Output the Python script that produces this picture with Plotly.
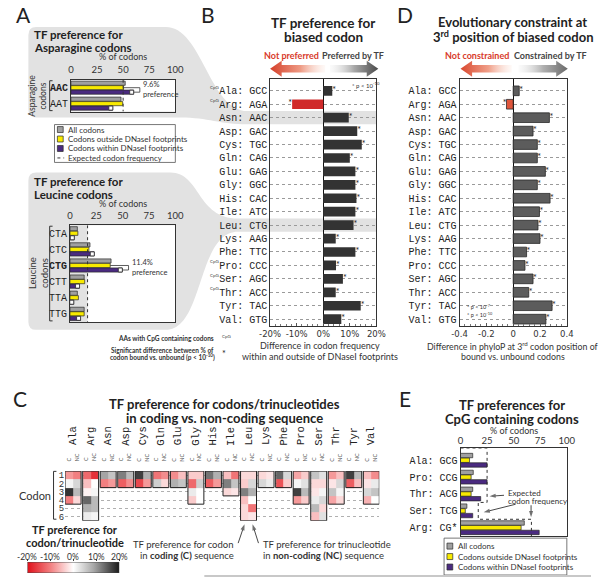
import plotly.graph_objects as go

# ---------------- data ----------------
asn_codons = ["AAC", "AAT"]
asn_all = [52.0, 48.0]
asn_outside = [50.4, 49.6]
asn_within = [60.0, 40.0]
asn_expected = 50.0
asn_pref_label = "9.6%"

leu_codons = ["CTA", "CTC", "CTG", "CTT", "TTA", "TTG"]
leu_all = [7.0, 19.0, 39.0, 13.5, 7.0, 13.5]
leu_outside = [7.5, 18.0, 38.2, 14.0, 8.0, 13.5]
leu_within = [4.0, 23.0, 49.6, 9.0, 3.5, 10.0]
leu_expected = 16.7
leu_pref_label = "11.4%"

aa_names = ["Ala", "Arg", "Asn", "Asp", "Cys", "Gln", "Glu", "Gly", "His",
            "Ile", "Leu", "Lys", "Phe", "Pro", "Ser", "Thr", "Tyr", "Val"]
biased_codons = ["GCC", "AGA", "AAC", "GAC", "TGC", "CAG", "GAG", "GGC", "CAC",
                 "ATC", "CTG", "AAG", "TTC", "CCC", "AGC", "ACC", "TAC", "GTG"]
cpg_aas = ["Ala", "Arg", "Pro", "Ser", "Thr"]
tf_preference = [3.4, -11.7, 9.6, 12.8, 14.5, 10.0, 12.1, 12.1, 12.5,
                 12.1, 11.4, 4.7, 12.1, 4.8, 7.4, 4.7, 14.1, 6.8]
phylop_difference = [0.045, -0.05, 0.27, 0.148, 0.18, 0.18, 0.24, 0.18, 0.275,
                     0.196, 0.185, 0.20, 0.10, 0.088, 0.148, 0.116, 0.29, 0.244]

codon_counts = [4, 6, 2, 2, 2, 2, 2, 4, 2, 3, 6, 2, 2, 4, 6, 4, 2, 4]
heat_coding = [
    [-8, 1, 18, -10], [-12, -5, -1, 14, 8, 2], [9, -10], [12, -13], [17, -15],
    [-11, 5], [-9, 8], [-4, -12, 2, -4], [13, -13], [-5, 12, -3],
    [-3, -4, 12, -5, -3, -3], [-3, 4], [14, -14], [-7, 1, 17, -8],
    [6, -3, -2, 2, 7, -5], [-8, -2, 6, -7], [17, -13], [-5, -2, 4, -6],
]
heat_noncoding = [
    [-10, 4, 7, -3], [-17, 0, 1, 7, 7, 1], [6, -8], [7, -9], [8, -8],
    [-9, -3], [-5, 6], [-4, 5, 0, 0], [8, -8], [-11, 6, -2],
    [-3, 4, 8, 0, -11, -2], [-2, 2], [4, -4], [-4, 3, 7, -4],
    [3, -3, 1, 4, -3, 3], [-5, 4, 1, -3], [7, -5], [-9, 2, 6, 0],
]
heat_ticks = [-20, -10, 0, 10, 20]

cpg_codon_labels = ["Ala: GCG", "Pro: CCG", "Thr: ACG", "Ser: TCG", "Arg: CG*"]
cpg_all = [11.5, 12.0, 11.5, 6.0, 60.0]
cpg_outside = [8.5, 10.0, 10.0, 4.5, 57.0]
cpg_within = [25.0, 25.0, 19.0, 11.5, 74.0]
cpg_expected = [25.0, 25.0, 25.0, 16.7, 66.7]

# ---------------- style ----------------
W, H = 600, 579
def PX(x): return x / W
def PY(y): return 1 - y / H

SANS = "Lato"
MONO = "Liberation Mono"
TICKF = "DejaVu Sans"
GRAY = "#a0a0a0"
YELLOW = "#f8ea00"
PURPLE = "#4a2a80"
EDGE = "#2a2a2a"
FUNNEL = "#e2e2e2"
DARK = "#333333"
REDB = "#d02a2a"
REDD = "#e0553b"
GRAYD = "#5c5c5c"
OFFS = [-0.28, 0.0, 0.28]

fig = go.Figure()
shapes = []
anns = []


def ann(x, y, text, size=9, color="#222", family=SANS, xanchor="center",
        yanchor="middle", **kw):
    anns.append(dict(x=PX(x), y=PY(y), xref="paper", yref="paper", text=text,
                     showarrow=False, font=dict(size=size, color=color, family=family),
                     xanchor=xanchor, yanchor=yanchor, **kw))


def pline(x0, y0, x1, y1, color="#222", width=1, dash=None, layer="above"):
    shapes.append(dict(type="line", xref="paper", yref="paper", x0=PX(x0), y0=PY(y0),
                       x1=PX(x1), y1=PY(y1), layer=layer,
                       line=dict(color=color, width=width, dash=dash)))


def prect(x0, y0, x1, y1, fill, lc=None, lw=0.8, layer="below"):
    shapes.append(dict(type="rect", xref="paper", yref="paper", x0=PX(x0), y0=PY(y0),
                       x1=PX(x1), y1=PY(y1), fillcolor=fill, layer=layer,
                       line=dict(color=lc if lc else "rgba(0,0,0,0)", width=lw if lc else 0)))


def ppath(cmds, fill):
    out = []
    for c in cmds:
        op, vals = c[0], c[1:]
        pts = []
        for i in range(0, len(vals), 2):
            pts.append(f"{PX(vals[i]):.5f},{PY(vals[i+1]):.5f}")
        out.append(op + " " + " ".join(pts))
    shapes.append(dict(type="path", xref="paper", yref="paper", path=" ".join(out) + " Z",
                       fillcolor=fill, line=dict(width=0), layer="below"))


def px_arrow(x0, y0, x1, y1):
    # decorative pointer drawn on the pixel overlay axis
    fig.add_trace(go.Scatter(x=[x0, x1], y=[y0, y1], mode="lines+markers",
                             line=dict(color="#333", width=0.9),
                             marker=dict(symbol=["circle", "arrow"], size=[0, 6.5], angleref="previous",
                                         color="#333", line=dict(width=0)),
                             xaxis="x9", yaxis="y9", hoverinfo="skip", showlegend=False))


# ---------------- gray funnels (panel A -> B rows) ----------------
ppath([("M", 26, 27), ("L", 160, 27), ("C", 198, 27, 205, 111.5, 245, 111.5),
       ("L", 378, 111.5), ("L", 378, 124.8), ("L", 245, 124.8),
       ("C", 215, 124.8, 205, 118, 175, 118), ("L", 26, 118), ("Q", 18, 118, 18, 110),
       ("L", 18, 35), ("Q", 18, 27, 26, 27)], FUNNEL)
ppath([("M", 26, 173), ("L", 165, 173), ("C", 196, 173, 192, 219.2, 235, 219.2),
       ("L", 378, 219.2), ("L", 378, 232.6), ("L", 235, 232.6),
       ("C", 192, 232.6, 200, 331, 160, 331), ("L", 26, 331), ("Q", 18, 331, 18, 323),
       ("L", 18, 181), ("Q", 18, 173, 26, 173)], FUNNEL)
prect(62, 80, 170, 112, "white")
prect(61, 226, 170, 323, "white")
shapes.append(dict(type="rect", xref="x2", yref="y2 domain", x0=0, x1=leu_expected,
                   y0=0, y1=1, fillcolor=FUNNEL, line=dict(width=0), layer="below"))


# ---------------- panel A bars ----------------
def grouped(xa, ya, series, colors, n):
    for k, (vals, col) in enumerate(zip(series, colors)):
        fig.add_trace(go.Bar(x=vals, y=[i + OFFS[k] for i in range(n)], orientation="h",
                             width=0.26, marker=dict(color=col, line=dict(color=EDGE, width=0.7)),
                             xaxis=xa, yaxis=ya, hoverinfo="skip", showlegend=False))


def white_marks(xa, ya, vals):
    fig.add_trace(go.Scatter(x=[v - 1.8 for v in vals], y=[i + OFFS[2] for i in range(len(vals))],
                             mode="markers", xaxis=xa, yaxis=ya, hoverinfo="skip", showlegend=False,
                             marker=dict(symbol="square", size=4, color="white",
                                         line=dict(color=EDGE, width=0.8))))


grouped("x", "y", [asn_all, asn_outside, asn_within], [GRAY, YELLOW, PURPLE], len(asn_codons))
white_marks("x", "y", asn_within)
fig.add_trace(go.Scatter(x=[asn_expected] * 2, y=[-0.5, len(asn_codons) - 0.5], mode="lines",
                         line=dict(color="#333", width=1, dash="dot"), xaxis="x", yaxis="y",
                         hoverinfo="skip", showlegend=False))

grouped("x2", "y2", [leu_all, leu_outside, leu_within], [GRAY, YELLOW, PURPLE], len(leu_codons))
white_marks("x2", "y2", leu_within)
fig.add_trace(go.Scatter(x=[leu_expected] * 2, y=[-0.5, len(leu_codons) - 0.5], mode="lines",
                         line=dict(color="#333", width=1, dash="dot"), xaxis="x2", yaxis="y2",
                         hoverinfo="skip", showlegend=False))


def pref_bracket(xa, ya, i, out_v, in_v, label):
    bx = in_v + 6
    for (x0, y0, x1, y1) in [(out_v, i + OFFS[1], bx, i + OFFS[1]), (in_v, i + OFFS[2], bx, i + OFFS[2]),
                             (bx, i + OFFS[1], bx, i + OFFS[2])]:
        shapes.append(dict(type="line", xref=xa, yref=ya, x0=x0, y0=y0, x1=x1, y1=y1,
                           line=dict(color="#333", width=0.8), layer="above"))
    anns.append(dict(x=bx + 1.5, y=i + 0.14, xref=xa, yref=ya, text=label + "<br>preference",
                     showarrow=False, xanchor="left", yanchor="middle", align="left",
                     font=dict(family=SANS, size=7.5, color="#333")))


asn_hi = asn_codons.index(biased_codons[aa_names.index("Asn")])
leu_hi = leu_codons.index(biased_codons[aa_names.index("Leu")])
pref_bracket("x", "y", asn_hi, asn_outside[asn_hi], asn_within[asn_hi], asn_pref_label)
pref_bracket("x2", "y2", leu_hi, leu_outside[leu_hi], leu_within[leu_hi], leu_pref_label)

# panel A titles, labels, brackets, legend
ann(13, 15, "A", size=21, family=SANS)
ann(22, 35, "<b>TF preference for</b>", size=11.5, xanchor="left")
ann(22, 48, "<b>Asparagine codons</b>", size=11.5, xanchor="left")
ann(22, 182, "<b>TF preference for</b>", size=11.5, xanchor="left")
ann(22, 195, "<b>Leucine codons</b>", size=11.5, xanchor="left")
ann(116, 57, "% of codons", size=9, color="#333")
ann(115.5, 204, "% of codons", size=9, color="#333")
ann(28, 96, "Asparagine<br>codons", size=8.5, textangle=-90, color="#333")
ann(28, 274, "Leucine<br>codons", size=9.5, textangle=-90, color="#333")
for (ya, yb) in [(81, 111), (227, 322)]:
    pline(40, ya, 40, yb, color="#333", width=1)
    pline(40, ya, 43, ya, color="#333", width=1)
    pline(40, yb, 43, yb, color="#333", width=1)

prect(45, 125, 170, 163, "white", lc="#555", lw=0.8, layer="above")
leg_items = [("sq", GRAY, "All codons"), ("sq", YELLOW, "Codons outside DNaseI footprints"),
             ("sq", PURPLE, "Codons within DNaseI footprints"), ("ln", "#333", "Expected codon frequency")]
for k, (kind, col, txt) in enumerate(leg_items):
    yy = 130 + 9.5 * k
    if kind == "sq":
        prect(48, yy - 3, 54, yy + 3, col, lc=EDGE, lw=0.7, layer="above")
    else:
        pline(48, yy, 55, yy, color=col, width=1, dash="dot")
    ann(57, yy, txt, size=8, xanchor="left", color="#333")

ann(212, 340, "<b>AAs with CpG containing codons</b>", size=6.5, xanchor="right", color="#333")
ann(216, 338, "CpG", size=4.5, xanchor="left", color="#444")
ann(157, 351, "<b>Significant difference between % of</b>", size=6.5, color="#333")
ann(157, 358.5, "<b>codon bound vs. unbound (p &lt; 10<sup>-10</sup>)</b>", size=6.5, color="#333")
ann(220, 355, "*", size=9, color="#222")

# ---------------- panel B ----------------
fig.add_trace(go.Bar(x=tf_preference, y=list(range(len(aa_names))), orientation="h", width=0.72,
                     marker=dict(color=[REDB if v < 0 else DARK for v in tf_preference], line=dict(width=0)),
                     xaxis="x3", yaxis="y3", hoverinfo="skip", showlegend=False))
fig.add_trace(go.Scatter(x=tf_preference, y=list(range(len(aa_names))), mode="text",
                         text=["*"] * len(aa_names),
                         textposition=["middle left" if v < 0 else "middle right" for v in tf_preference],
                         textfont=dict(size=9, color="#222", family=SANS),
                         xaxis="x3", yaxis="y3", hoverinfo="skip", showlegend=False))
ann(204, 15, "B", size=21)
ann(323, 23, "<b>TF preference for</b>", size=13.5)
ann(323, 37, "<b>biased codon</b>", size=13.5)
ann(290, 56, "<b>Not preferred</b>", size=9, color="#d83a2a")
ann(354, 56, "<b>Preferred by TF</b>", size=9, color="#444")
ann(367, 85, "* p &lt; 10<sup>-10</sup>", size=6, color="#333")
ann(320, 347, "Difference in codon frequency", size=9, color="#333")
ann(320, 358, "within and outside of DNaseI footprints", size=9, color="#333")
for aa in cpg_aas:
    anns.append(dict(x=PX(217), y=aa_names.index(aa) - 0.28, xref="paper", yref="y3", text="CpG",
                     showarrow=False, xanchor="right", yanchor="middle",
                     font=dict(size=4.5, color="#444", family=SANS)))

# ---------------- panel D ----------------
fig.add_trace(go.Bar(x=phylop_difference, y=list(range(len(aa_names))), orientation="h", width=0.72,
                     marker=dict(color=[REDD if v < 0 else GRAYD for v in phylop_difference],
                                 line=dict(width=0.8, color="#2a2a2a")),
                     xaxis="x4", yaxis="y4", hoverinfo="skip", showlegend=False))
fig.add_trace(go.Scatter(x=phylop_difference, y=list(range(len(aa_names))), mode="text",
                         text=["*"] * len(aa_names),
                         textposition=["middle left" if v < 0 else "middle right" for v in phylop_difference],
                         textfont=dict(size=9, color="#222", family=SANS),
                         xaxis="x4", yaxis="y4", hoverinfo="skip", showlegend=False))
ann(408, 15, "D", size=21)
ann(519, 22.5, "<b>Evolutionary constraint at</b>", size=13)
ann(519, 37, "<b>3<sup>rd</sup> position of biased codon</b>", size=13)
ann(482, 56, "<b>Not constrained</b>", size=9, color="#d83a2a")
ann(558, 56, "<b>Constrained by TF</b>", size=9, color="#444")
ann(470, 308, "* p &lt; 10<sup>-7</sup>", size=5.5, xanchor="left", color="#333")
ann(470, 316, "* p &lt; 10<sup>-10</sup>", size=5.5, xanchor="left", color="#333")
ann(519, 347, "Difference in phyloP at 3<sup>rd</sup> codon position of", size=8.8, color="#333")
ann(519, 358, "bound vs. unbound codons", size=8.8, color="#333")


# gradient arrows on a pixel overlay axis
def arrow_pts(x_head, x_tail, yc, h1=3.8, h2=8.0, L=12):
    d = 1 if x_tail > x_head else -1
    xs = [x_head, x_head + d * L, x_head + d * L, x_tail, x_tail, x_head + d * L, x_head + d * L, x_head]
    ys = [yc, yc - h2, yc - h1, yc - h1, yc + h1, yc + h1, yc + h2, yc]
    return xs, ys


for (xh, xt, cs) in [(268, 325, [[0, "#d5402a"], [0.55, "#ee9a84"], [1, "rgba(250,225,215,0.2)"]]),
                     (380, 330, [[0, "rgba(235,235,235,0.2)"], [0.5, "#a8a8a8"], [1, "#4a4a4a"]]),
                     (465, 518, [[0, "#d9482e"], [0.55, "#f0a08a"], [1, "rgba(250,225,215,0.2)"]]),
                     (576, 525, [[0, "rgba(235,235,235,0.2)"], [0.5, "#b0b0b0"], [1, "#6a6a6a"]])]:
    xs, ys = arrow_pts(xh, xt, 69)
    fig.add_trace(go.Scatter(x=xs, y=ys, mode="lines", fill="toself", line=dict(width=0),
                             fillgradient=dict(type="horizontal", colorscale=cs),
                             xaxis="x9", yaxis="y9", hoverinfo="skip", showlegend=False))

# ---------------- panel C heatmap ----------------
PITCH = 2.2
HX0, HX1 = 56, 381
cols = []
for i, n in enumerate(codon_counts):
    s = PITCH * i
    cols.append((s, [heat_coding[i][r] if r < n else None for r in range(6)]))
    cols.append((s + 1, [heat_noncoding[i][r] if r < n else None for r in range(6)]))
    if i < len(codon_counts) - 1:
        cols.append((s + 2, [None] * 6))
x_edges = [c[0] for c in cols] + [PITCH * (len(codon_counts) - 1) + 2]
z = [[c[1][r] for c in cols] for r in range(6)]
colorscale = [[0, "#e0101a"], [0.25, "#f27f80"], [0.5, "#ffffff"], [0.72, "#a8a8a8"], [1, "#1a1a1a"]]
fig.add_trace(go.Heatmap(x=x_edges, y=list(range(7)), z=z, zmin=heat_ticks[0], zmax=heat_ticks[-1],
                         colorscale=colorscale, showscale=False, xaxis="x5", yaxis="y5",
                         hoverinfo="skip"))
# colour key drawn with the same colour scale on its own small axis
fig.add_trace(go.Scatter(x=[heat_ticks[0], heat_ticks[-1], heat_ticks[-1], heat_ticks[0], heat_ticks[0]],
                         y=[0, 0, 1, 1, 0], mode="lines", fill="toself",
                         fillgradient=dict(type="horizontal", colorscale=colorscale),
                         line=dict(color="#444", width=0.8), xaxis="x7", yaxis="y7",
                         showlegend=False, hoverinfo="skip"))
for t in heat_ticks:
    anns.append(dict(x=t, y=PY(559), xref="x7", yref="paper", text=f"{t}%", showarrow=False,
                     xanchor="center", yanchor="middle", font=dict(family=SANS, size=8.5, color="#333")))
for i, (aa, n) in enumerate(zip(aa_names, codon_counts)):
    s = PITCH * i
    shapes.append(dict(type="rect", xref="x5", yref="y5", x0=s, x1=s + 2, y0=0, y1=n,
                       line=dict(color="#222", width=1), fillcolor="rgba(0,0,0,0)", layer="above"))
    anns.append(dict(x=s + 1, y=PY(449), xref="x5", yref="paper", text=aa, showarrow=False,
                     textangle=-90, font=dict(family=MONO, size=10.5, color="#222")))
    for j, lab in enumerate(["C", "NC"]):
        anns.append(dict(x=s + 0.5 + j, y=PY(465), xref="x5", yref="paper", text=lab, showarrow=False,
                         textangle=-90, font=dict(family=SANS, size=5.5, color="#555")))

ann(9, 400, "C", size=21)
ann(221, 405, "<b>TF preference for codons/trinucleotides</b>", size=13)
ann(221, 419, "<b>in coding vs. non-coding sequence</b>", size=13)
ann(25, 497, "Codon", size=11, color="#333")
pline(44, 473, 44, 521, color="#333")
pline(44, 473, 47, 473, color="#333")
pline(44, 521, 47, 521, color="#333")
ann(66, 531, "<b>TF preference for</b>", size=11)
ann(66, 544, "<b>codon/trinucleotide</b>", size=11)
ann(233, 546, "TF preference for codon", size=9.5, xanchor="right", color="#333")
ann(233, 557.5, "in <b>coding (C)</b> sequence", size=9.5, xanchor="right", color="#333")
ann(259, 546, "TF preference for trinucleotide", size=9.5, xanchor="left", color="#333")
ann(259, 557.5, "in <b>non-coding (NC)</b> sequence", size=9.5, xanchor="left", color="#333")
leu_s = PITCH * aa_names.index("Leu")
hscale = (HX1 - HX0) / x_edges[-1]
px_arrow(235, 545, HX0 + (leu_s + 0.5) * hscale, 526)
px_arrow(256, 545, HX0 + (leu_s + 1.5) * hscale, 526)

# ---------------- panel E ----------------
grouped("x6", "y6", [cpg_all, cpg_outside, cpg_within], [GRAY, YELLOW, PURPLE], len(cpg_codon_labels))
E_YR = [4.5, -0.7]
ex, ey = [0], [E_YR[1]]
for i, e in enumerate(cpg_expected):
    ex += [e, e]
    ey += [i - 0.5, i + 0.5]
ey[1] = E_YR[1]
ey[-1] = E_YR[0]
fig.add_trace(go.Scatter(x=ex, y=ey, mode="lines", line=dict(color="#333", width=1, dash="dot"),
                         xaxis="x6", yaxis="y6", hoverinfo="skip", showlegend=False))
ann(408, 400, "E", size=21)
ann(518, 406, "<b>TF preferences for</b>", size=13)
ann(518, 420, "<b>CpG containing codons</b>", size=13)
ann(520, 431.5, "% of codons", size=9, color="#333")
ann(512, 495, "Expected", size=8, xanchor="left", color="#333")
ann(512, 503, "codon frequency", size=8, xanchor="left", color="#333")
px_arrow(510, 497, 495, 498)
px_arrow(522, 506, 489, 514)
px_arrow(538, 507, 538, 519)
prect(448, 540, 575, 577, "white", lc="#555", lw=0.8, layer="above")
for k, (col, txt) in enumerate([(GRAY, "All codons"), (YELLOW, "Codons outside DNaseI footprints"),
                                (PURPLE, "Codons within DNaseI footprints")]):
    yy = 548 + 10.5 * k
    prect(451, yy - 3, 457, yy + 3, col, lc=EDGE, lw=0.7, layer="above")
    ann(460, yy, txt, size=8, xanchor="left", color="#333")

pline(200, 578, 600, 578, color="#c8c8c8", width=2)

# ---------------- axes ----------------
pct_ticks = [0, 25, 50, 75, 100]
tick_sans = dict(family=SANS, size=9.5, color="#333")
mono = dict(family=MONO, size=10, color="#222")


def pct_axis(x0, x1, anchor, standoff=0):
    return dict(domain=[PX(x0), PX(x1)], range=[0, 100], anchor=anchor, side="top", tickvals=pct_ticks,
                ticksuffix="%", showline=True, mirror=True, linecolor="#333", linewidth=0.8,
                showgrid=False, zeroline=False, ticks="", tickfont=tick_sans, fixedrange=True,
                ticklabelstandoff=standoff)


def cat_axis(y0, y1, anchor, labels, rng, font):
    return dict(domain=[PY(y1), PY(y0)], range=rng, anchor=anchor, tickvals=list(range(len(labels))),
                ticktext=labels, showline=True, mirror=True, linecolor="#333", linewidth=0.8,
                showgrid=False, zeroline=False, ticks="", tickfont=font, fixedrange=True)


asn_lbl = [f"<b>{c}</b>" if i == asn_hi else c for i, c in enumerate(asn_codons)]
leu_lbl = [f"<b>{c}</b>" if i == leu_hi else c for i, c in enumerate(leu_codons)]
bd_labels = [f"{a}: {c}" for a, c in zip(aa_names, biased_codons)]

yB = cat_axis(79, 327, "x3", bd_labels, [len(aa_names) - 0.5, -0.9], mono)
yB.update(showgrid=True, griddash="dot", gridcolor="#9a9a9a", gridwidth=0.8)
yD = cat_axis(79, 327, "x4", bd_labels, [len(aa_names) - 0.5, -0.9], mono)
yD.update(showgrid=True, griddash="dot", gridcolor="#9a9a9a", gridwidth=0.8)


def diff_axis(x0, x1, anchor, rng, tv, tt, mdt):
    return dict(domain=[PX(x0), PX(x1)], range=rng, anchor=anchor, tickvals=tv, ticktext=tt,
                showline=True, mirror=True, linecolor="#333", linewidth=0.8, showgrid=False,
                zeroline=True, zerolinecolor="#111", zerolinewidth=1.2, ticks="inside", ticklen=3,
                tickcolor="#555", minor=dict(ticks="inside", ticklen=2, dtick=mdt, tickcolor="#777"),
                tickfont=dict(family=TICKF, size=8.5, color="#333"), fixedrange=True)


fig.update_layout(
    width=W, height=H, margin=dict(l=0, r=0, t=0, b=0), autosize=False,
    paper_bgcolor="white", plot_bgcolor="rgba(0,0,0,0)", showlegend=False,
    font=dict(family=SANS, color="#222"),
    xaxis=pct_axis(62, 170, "y", 2),
    yaxis=cat_axis(80, 112, "x", asn_lbl, [len(asn_codons) - 0.5, -0.5], mono),
    xaxis2=pct_axis(61, 170, "y2", 2),
    yaxis2=cat_axis(226, 323, "x2", leu_lbl, [len(leu_codons) - 0.5, -0.5], mono),
    xaxis3=diff_axis(268, 378, "y3", [-20, 20], [-20, -10, 0, 10, 20],
                     ["-20%", "-10%", "0%", "10%", "20%"], 2),
    yaxis3=yB,
    xaxis4=diff_axis(464, 575, "y4", [-0.4, 0.4], [-0.4, -0.2, 0, 0.2, 0.4],
                     ["-0.4", "-0.2", "0", "0.2", "0.4"], 0.04),
    yaxis4=yD,
    xaxis5=dict(domain=[PX(HX0), PX(HX1)], range=[0, x_edges[-1]], anchor="y5", visible=False,
                fixedrange=True),
    yaxis5=dict(domain=[PY(522.5), PY(472.7)], range=[6, 0], anchor="x5",
                tickvals=[r + 0.5 for r in range(6)], ticktext=[str(r + 1) for r in range(6)],
                showgrid=True, griddash="dot", gridcolor="#b0b0b0", gridwidth=0.8, ticks="",
                showline=False, zeroline=False, tickfont=dict(family=MONO, size=9, color="#333"),
                fixedrange=True),
    xaxis6=pct_axis(465, 575, "y6", 0),
    yaxis6=cat_axis(450, 538, "x6", cpg_codon_labels, E_YR, mono),
    xaxis7=dict(domain=[PX(17), PX(112)], range=[heat_ticks[0], heat_ticks[-1]], anchor="y7",
                side="top", tickvals=heat_ticks, ticks="outside", ticklen=2, showticklabels=False,
                tickcolor="#444", showline=False, showgrid=False, zeroline=False, fixedrange=True),
    yaxis7=dict(domain=[PY(575), PY(564)], range=[0, 1], anchor="x7", visible=False, fixedrange=True),
    xaxis9=dict(domain=[0, 1], range=[0, W], anchor="y9", visible=False, fixedrange=True),
    yaxis9=dict(domain=[0, 1], range=[H, 0], anchor="x9", visible=False, fixedrange=True),
    shapes=shapes, annotations=anns,
)

fig.write_html("out.html", post_script="document.body.style.margin='0px';",
               config={"displayModeBar": False})
